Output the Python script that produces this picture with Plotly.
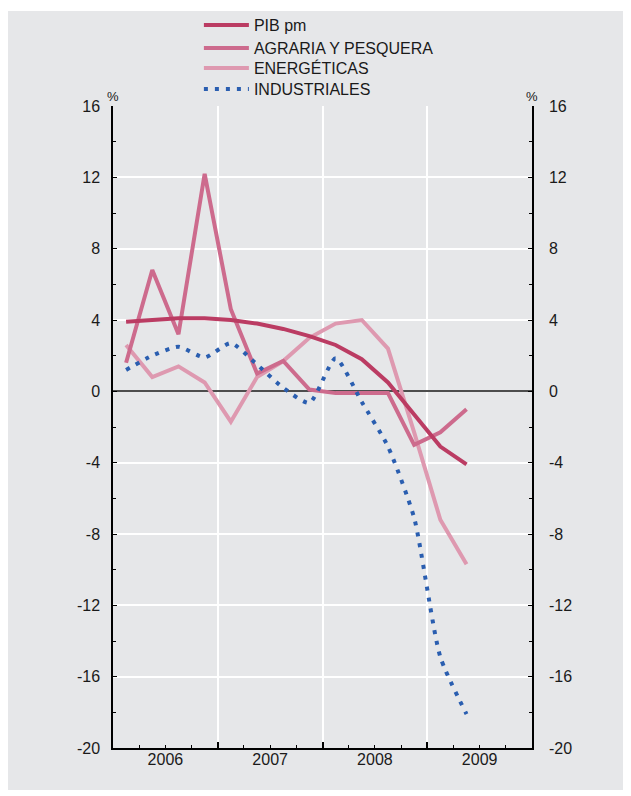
import plotly.graph_objects as go

# Quarterly data 2006Q1 - 2009Q2 (year-on-year % change)
quarters = ["2006T1", "2006T2", "2006T3", "2006T4",
            "2007T1", "2007T2", "2007T3", "2007T4",
            "2008T1", "2008T2", "2008T3", "2008T4",
            "2009T1", "2009T2"]
pib = [3.9, 4.0, 4.1, 4.1, 4.0, 3.8, 3.5, 3.1, 2.6, 1.8, 0.5, -1.3, -3.1, -4.1]
agraria = [1.6, 6.8, 3.2, 12.2, 4.6, 1.0, 1.7, 0.1, -0.1, -0.1, -0.1, -3.0, -2.3, -1.0]
energeticas = [2.6, 0.8, 1.4, 0.5, -1.7, 0.8, 1.7, 3.0, 3.8, 4.0, 2.4, -2.3, -7.2, -9.7]
industriales = [1.2, 2.0, 2.5, 1.9, 2.7, 1.5, 0.2, -0.65, 1.85, -0.6, -3.1, -7.1, -14.9, -18.1]

years = ["2006", "2007", "2008", "2009"]
year_pos = [2, 6, 10, 14]
y_ticks = [-20, -16, -12, -8, -4, 0, 4, 8, 12, 16]
y_ticktext = [str(v) for v in y_ticks]

# quarter centres on a numeric axis (each quarter one unit)
xq = [i + 0.5 for i in range(len(quarters))]

BG = "#e6e7e9"
C_PIB = "#bb3c63"
C_AGR = "#cd6b8d"
C_ENE = "#de99b0"
C_IND = "#2a5eb0"
FONT = "Liberation Sans, Arial, sans-serif"

fig = go.Figure()
fig.add_trace(go.Scatter(x=xq, y=energeticas, mode="lines", name="ENERGÉTICAS",
                         line=dict(color=C_ENE, width=4), legend="legend3"))
fig.add_trace(go.Scatter(x=xq, y=agraria, mode="lines", name="AGRARIA Y PESQUERA",
                         line=dict(color=C_AGR, width=4), legend="legend2"))
fig.add_trace(go.Scatter(x=xq, y=pib, mode="lines", name="PIB pm",
                         line=dict(color=C_PIB, width=4), legend="legend"))
fig.add_trace(go.Scatter(x=xq, y=industriales, mode="lines", name="INDUSTRIALES",
                         line=dict(color=C_IND, width=4, dash="4px,7px", shape="spline", smoothing=0.6),
                         legend="legend4"))
# invisible trace to carry the right axis / year-label axis
fig.add_trace(go.Scatter(x=xq, y=pib, xaxis="x2", yaxis="y2", mode="lines",
                         line=dict(width=0), opacity=0, showlegend=False, hoverinfo="skip"))

leg_common = dict(x=0.205, xanchor="left", yanchor="middle",
                  bgcolor="rgba(0,0,0,0)", font=dict(size=16, family=FONT, color="#1a1a1a"),
                  itemwidth=45)

fig.update_layout(
    width=623, height=788,
    margin=dict(l=105, r=99, t=98, b=48, autoexpand=False),
    paper_bgcolor="white",
    plot_bgcolor=BG,
    font=dict(family=FONT, size=16, color="#1a1a1a"),
    showlegend=True,
    legend=dict(y=1.1262, **leg_common),
    legend2=dict(y=1.0903, **leg_common),
    legend3=dict(y=1.0592, **leg_common),
    legend4=dict(y=1.0265, **leg_common),
    xaxis=dict(range=[0, 16], tick0=0, dtick=4, showticklabels=False,
               ticks="inside", ticklen=6, tickwidth=1.5, tickcolor="black",
               showline=True, linecolor="black", linewidth=2,
               showgrid=True, gridcolor="white", gridwidth=1.5, zeroline=False,
               minor=dict(tickmode="linear", tick0=0, dtick=1, ticks="inside",
                          ticklen=3, tickwidth=1, tickcolor="black", showgrid=False)),
    xaxis2=dict(range=[0, 16], overlaying="x", anchor="y", side="bottom",
                tickmode="array", tickvals=year_pos, ticktext=years,
                ticks="", showline=False, showgrid=False, zeroline=False,
                tickfont=dict(size=16)),
    yaxis=dict(range=[-20, 16], tickmode="array", tickvals=y_ticks, ticktext=y_ticktext,
               ticks="inside", ticklen=4, tickwidth=1, tickcolor="black",
               showline=True, linecolor="black", linewidth=1.5,
               showgrid=True, gridcolor="white", gridwidth=1.5,
               zeroline=True, zerolinecolor="#4d4d4d", zerolinewidth=1.5,
               ticklabelstandoff=8,
               minor=dict(tickmode="linear", tick0=0, dtick=2, ticks="inside",
                          ticklen=3, tickwidth=1, tickcolor="black", showgrid=False)),
    yaxis2=dict(range=[-20, 16], overlaying="y", side="right", anchor="x2",
                tickmode="array", tickvals=y_ticks, ticktext=y_ticktext,
                ticks="inside", ticklen=4, tickwidth=1, tickcolor="black",
                showline=True, linecolor="black", linewidth=1.5,
                showgrid=False, zeroline=False, ticklabelstandoff=12,
                minor=dict(tickmode="linear", tick0=0, dtick=2, ticks="inside",
                           ticklen=3, tickwidth=1, tickcolor="black", showgrid=False)),
    shapes=[dict(type="rect", xref="paper", yref="paper",
                 x0=-0.2506, x1=1.3, y0=-0.0654, y1=1.148,
                 fillcolor=BG, line=dict(width=0), layer="below")],
    annotations=[
        dict(text="%", xref="paper", yref="paper", x=0.0, y=1.0, yshift=19,
             showarrow=False, font=dict(size=13), xanchor="center"),
        dict(text="%", xref="paper", yref="paper", x=1.0, y=1.0, yshift=19,
             showarrow=False, font=dict(size=13), xanchor="center"),
    ],
)

fig.write_html("out.html")
